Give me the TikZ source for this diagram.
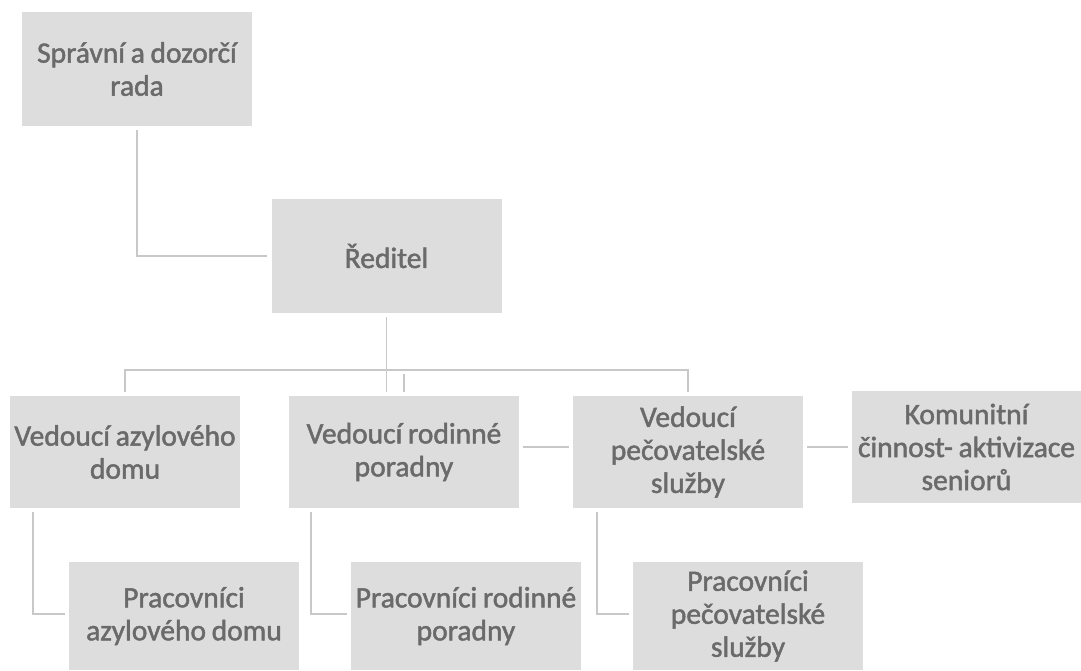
\documentclass[tikz,border=0pt]{standalone}
\usepackage{fontspec}
\setmainfont{Carlito}[WordSpace=0.85, UprightFeatures={FakeBold=1.6}]
\usepackage{tikz}
\usetikzlibrary{positioning,calc}
\definecolor{boxgray}{HTML}{DDDDDD}
\definecolor{textgray}{HTML}{6A6A6A}
\definecolor{linegray}{HTML}{C8C8C8}
\tikzset{
x=1pt, y=-1pt, % pixel grid of the picture, y grows downwards
unit/.style={rectangle, fill=boxgray, text=textgray, inner sep=0pt,
  minimum width=230pt, minimum height=112pt, align=center,
  font=\fontsize{29.5}{33}\selectfont},
link/.style={draw=linegray, line width=1.6pt, shorten <=4pt, shorten >=4pt},
}

\begin{document}
\begin{tikzpicture}
   \useasboundingbox (0,0) rectangle (1081,670);
   % top
   \node[unit, minimum height=114pt] (rada) at (137,69) {Správní a dozorčí\\rada};
   \node[unit, minimum height=114pt] (reditel) at (386.5,256) {Ředitel};
   % heads
   \node[unit] (v_azyl) at (125,452) {Vedoucí azylového\\domu};
   \node[unit] (v_rod) at (404,452) {Vedoucí rodinné\\poradny};
   \node[unit] (v_pec) at (688,452) {Vedoucí\\pečovatelské\\služby};
   \node[unit, minimum width=229pt] (kom) at (966.5,447) {Komunitní\\činnost- aktivizace\\seniorů};
   % staff
   \node[unit, minimum height=108pt] (p_azyl) at (184,616) {Pracovníci\\azylového domu};
   \node[unit, minimum height=108pt] (p_rod) at (466,616) {Pracovníci rodinné\\poradny};
   \node[unit, minimum height=108pt] (p_pec) at (748,616) {Pracovníci\\pečovatelské\\služby};

   \draw[link] (rada.south) |- (reditel.west);
   \draw[link] (reditel.south) -- (reditel.south |- v_rod.north);
   \draw[link] (v_azyl.north) -- ++(0,-26) -| (v_pec.north);
   \draw[link] (v_rod.north) -- ++(0,-26);
   \draw[link] (v_rod.east |- kom.west) -- (v_pec.west |- kom.west);
   \draw[link] (v_pec.east |- kom.west) -- (kom.west);
   \draw[link] ([xshift=23pt]v_azyl.south west) |- ([yshift=2pt]p_azyl.west);
   \draw[link] ([xshift=22pt]v_rod.south west) |- ([yshift=2pt]p_rod.west);
   \draw[link] ([xshift=24pt]v_pec.south west) |- ([yshift=2pt]p_pec.west);
\end{tikzpicture}
\end{document}
